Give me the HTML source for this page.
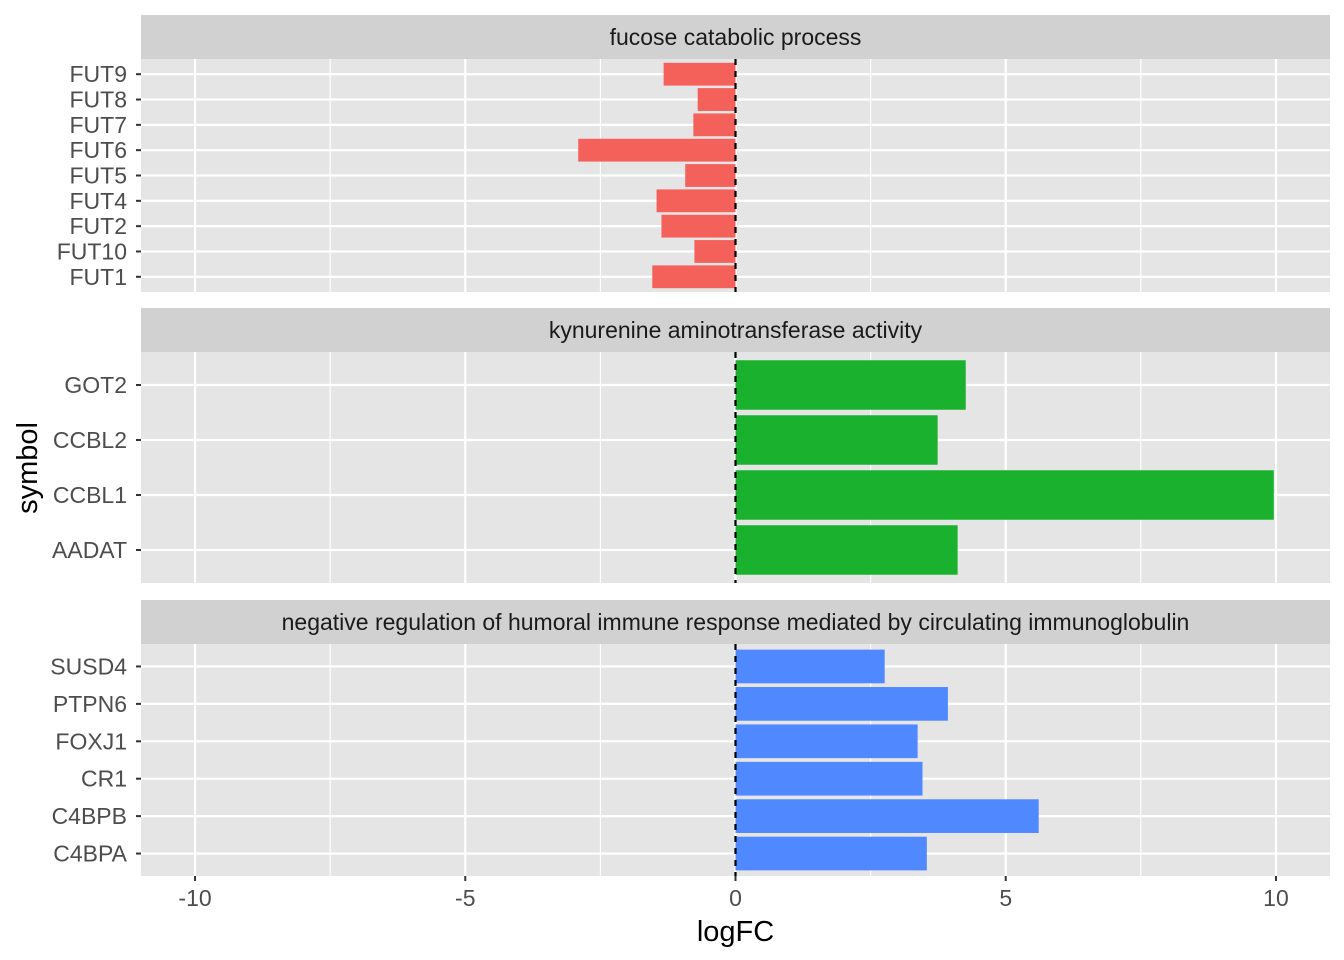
<!DOCTYPE html>
<html><head><meta charset="utf-8"><style>
body{margin:0;background:#fff;}
svg{display:block;font-family:"Liberation Sans",Arial,sans-serif;}
</style></head><body>
<svg id="chart" width="1344" height="960" xmlns="http://www.w3.org/2000/svg"></svg>
<script>
const panel1Titles = "fucose catabolic process";
const panel1Cats = ["FUT9","FUT8","FUT7","FUT6","FUT5","FUT4","FUT2","FUT10","FUT1"];
const panel1Vals = [-1.33,-0.70,-0.78,-2.91,-0.93,-1.46,-1.37,-0.76,-1.54];
const panel2Title = "kynurenine aminotransferase activity";
const panel2Cats = ["GOT2","CCBL2","CCBL1","AADAT"];
const panel2Vals = [4.26,3.74,9.96,4.11];
const panel3Title = "negative regulation of humoral immune response mediated by circulating immunoglobulin";
const panel3Cats = ["SUSD4","PTPN6","FOXJ1","CR1","C4BPB","C4BPA"];
const panel3Vals = [2.76,3.93,3.37,3.46,5.61,3.54];
const xTicks = [-10,-5,0,5,10];
const xTickLabels = ["-10","-5","0","5","10"];
const xMinor = [-7.5,-2.5,2.5,7.5];

const NS="http://www.w3.org/2000/svg";
const svg=document.getElementById('chart');
const L=141,R=1330,XMIN=-11,XMAX=11;
const xs=v=>L+(v-XMIN)/(XMAX-XMIN)*(R-L);
function mk(tag,attrs,parent){const e=document.createElementNS(NS,tag);for(const k in attrs)e.setAttribute(k,attrs[k]);(parent||svg).appendChild(e);return e;}

const panels=[
 {title:panel1Titles,cats:panel1Cats,vals:panel1Vals,color:"#F4605A",top:15,bottom:292,name:"fucose"},
 {title:panel2Title,cats:panel2Cats,vals:panel2Vals,color:"#1AB12F",top:308,bottom:583,name:"kynurenine"},
 {title:panel3Title,cats:panel3Cats,vals:panel3Vals,color:"#5088FF",top:600,bottom:876,name:"humoral"}
];
panels.forEach(p=>{
  const g=mk('g',{});
  
  
  const strip=mk('rect',{x:L,y:p.top,width:R-L,height:44,fill:"#D1D1D1"},g);
  
  
  const st=mk('text',{x:(L+R)/2,y:p.top+30,'text-anchor':'middle','font-size':23,fill:"#1A1A1A"},g);
  st.textContent=p.title;
  
  
  const pt=p.top+44,pb=p.bottom,n=p.cats.length;
  const bg=mk('rect',{x:L,y:pt,width:R-L,height:pb-pt,fill:"#E5E5E5"},g);
  
  
  const step=(pb-pt)/(n-1+1.2);
  const ys=i=>pt+(0.6+i)*step;
  xMinor.forEach(v=>{const l=mk('line',{x1:xs(v),x2:xs(v),y1:pt,y2:pb,stroke:"#fff","stroke-width":1.1},g);
    });
  xTicks.forEach(v=>{const l=mk('line',{x1:xs(v),x2:xs(v),y1:pt,y2:pb,stroke:"#fff","stroke-width":2.2},g);
    });
  p.cats.forEach((c,i)=>{
    const y=ys(i);
    const l=mk('line',{x1:L,x2:R,y1:y,y2:y,stroke:"#fff","stroke-width":2.2},g);
    
    const v=p.vals[i],h=step*0.9;
    const b=mk('rect',{x:Math.min(xs(0),xs(v)),y:y-h/2,width:Math.abs(xs(v)-xs(0)),height:h,fill:p.color},g);
    
    const tk=mk('line',{x1:L-5,x2:L,y1:y,y2:y,stroke:"#333","stroke-width":2},g);
    
    const t=mk('text',{x:L-14,y:y+8,'text-anchor':'end','font-size':23,fill:"#4D4D4D"},g);
    t.textContent=c;
  });
  const z=mk('line',{x1:xs(0),x2:xs(0),y1:pt,y2:pb,stroke:"#000","stroke-width":2.2,"stroke-dasharray":"6,6"},g);
  
});
xTicks.forEach((v,i)=>{
  const tk=mk('line',{x1:xs(v),x2:xs(v),y1:876,y2:881,stroke:"#333","stroke-width":2});
  
  const t=mk('text',{x:xs(v),y:906,'text-anchor':'middle','font-size':23,fill:"#4D4D4D"});
  t.textContent=xTickLabels[i];
});
const xt=mk('text',{x:(L+R)/2,y:941,'text-anchor':'middle','font-size':29,fill:"#000"});
xt.textContent="logFC";
const yt=mk('text',{x:0,y:0,'text-anchor':'middle','font-size':29,fill:"#000",transform:"translate(37,468) rotate(-90)"});
yt.textContent="symbol";
</script>
</body></html>
